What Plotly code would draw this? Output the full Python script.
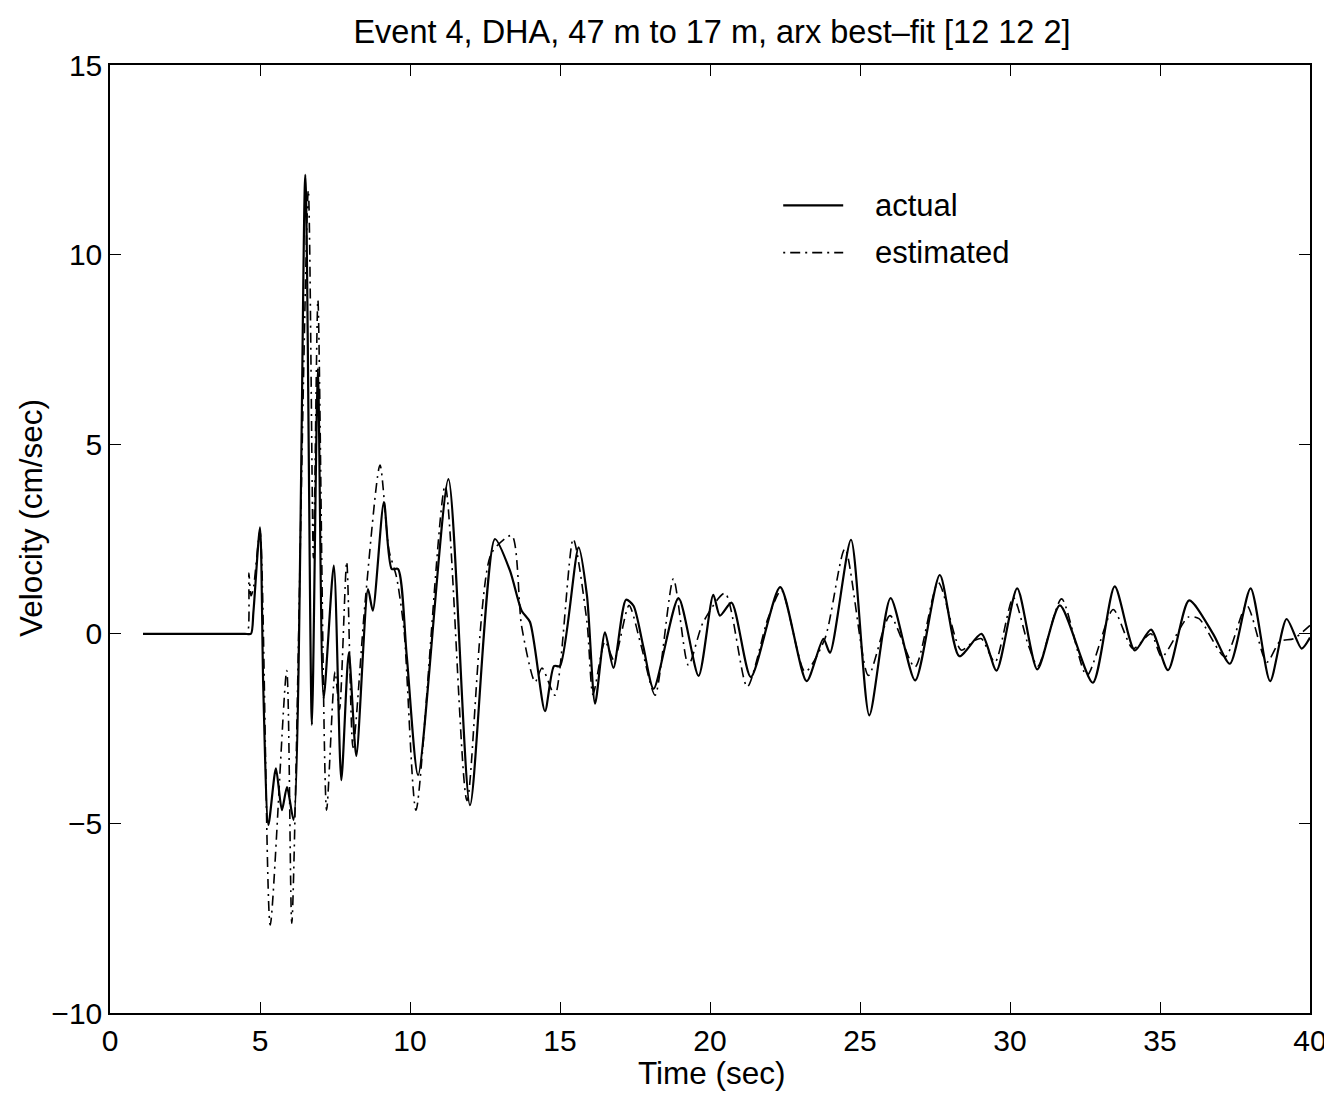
import plotly.graph_objects as go

# Time (sec) and velocity (cm/sec)
t_actual = [1.1, 2.5, 4.0, 4.5, 4.70, 4.78, 5.00, 5.11, 5.28, 5.53, 5.73, 5.90, 6.12, 6.51, 6.73,
            6.93, 7.12, 7.46, 7.71, 7.96, 8.21, 8.60, 8.76, 9.13, 9.39, 9.60, 9.89, 10.27,
            11.28, 12.00, 12.83, 13.33, 13.72, 14.00, 14.50, 14.80, 15.00, 15.62, 15.90, 16.17,
            16.50, 16.78, 17.20, 17.45, 17.78, 18.12, 18.95, 19.62, 20.11, 20.33, 20.72, 21.36,
            22.34, 23.22, 23.78, 24.00, 24.70, 25.31, 26.02, 26.84, 27.66, 28.31, 29.05, 29.55,
            30.24, 30.91, 31.66, 32.76, 33.49, 34.16, 34.70, 35.27, 35.97, 36.77, 37.33, 38.02,
            38.67, 39.22, 39.72, 40.00]
v_actual = [0.0, 0.0, 0.0, 0.0, 0.0, 0.57, 2.81, -1.45, -5.04, -3.55, -4.65, -4.04, -4.91, 12.1, -2.4,
            7.0, -1.7, 1.8, -3.86, -0.5, -3.22, 1.18, 0.61, 3.47, 1.71, 1.71, -0.57, -3.73,
            4.08, -4.52, 2.5, 1.67, 0.61, 0.31, -2.04, -0.85, -0.85, 2.28, 1.0, -1.84,
            0.04, -0.9, 0.9, 0.74, -0.35, -1.45, 0.94, -1.11, 1.03, 0.48, 0.82, -1.14,
            1.23, -1.25, -0.13, -0.5, 2.48, -2.15, 0.94, -1.23, 1.55, -0.59, 0.0, -0.97,
            1.2, -0.94, 0.75, -1.29, 1.25, -0.44, 0.11, -0.96, 0.88, 0.0, -0.79, 1.2,
            -1.25, 0.39, -0.39, -0.1]

t_est = [1.1, 2.5, 4.0, 4.45, 4.58, 4.63, 4.70, 4.78, 5.00, 5.34, 5.89, 6.06, 6.61, 6.78, 6.93,
         7.22, 7.50, 7.65, 7.89, 8.10, 8.50, 9.00, 9.30, 9.55, 9.80, 10.20, 11.17, 11.90,
         12.70, 13.39, 13.72, 14.17, 14.40, 14.83, 15.44, 15.90, 16.10, 16.50, 16.80, 17.30,
         17.70, 18.17, 18.78, 19.28, 19.77, 20.50, 21.24, 21.93, 22.38, 23.17, 23.83, 24.50,
         25.28, 26.00, 26.83, 27.61, 28.37, 28.83, 29.05, 29.50, 30.11, 30.61, 30.93, 31.72,
         32.56, 33.44, 34.10, 34.70, 35.06, 35.94, 36.30, 37.17, 37.89, 38.56, 39.00, 39.45,
         40.00]
v_est = [0.0, 0.0, 0.0, 0.0, 0.0, 1.6, 1.0, 1.2, 2.7, -7.68, -0.97, -7.63, 11.7, 2.0, 8.8,
         -4.65, -1.0, -2.0, 1.9, -3.0, 0.8, 4.45, 2.2, 1.5, 0.1, -4.65, 3.9, -4.4,
         2.1, 2.59, 0.2, -1.27, -0.9, -1.62, 2.5, 0.3, -1.6, -0.2, -0.7, 0.75,
         -0.3, -1.62, 1.45, -0.83, 0.3, 1.07, -1.4, 0.4, 1.15, -1.0, -0.13, 2.24,
         -1.1, 0.48, -0.88, 1.35, -0.43, -0.17, -0.13, -0.75, 0.96, -0.3, -0.85, 0.92,
         -1.1, 0.64, -0.39, 0.0, -0.61, 0.44, 0.4, -0.61, 0.75, -0.75, -0.2, -0.13,
         0.22]

series_names = ["actual", "estimated"]
x_ticks = [0, 5, 10, 15, 20, 25, 30, 35, 40]
y_ticks = [-10, -5, 0, 5, 10, 15]
y_tick_text = ["\u221210", "\u22125", "0", "5", "10", "15"]

FONT = "Liberation Sans, Arial, Helvetica, sans-serif"
DASHDOT = "2px,5px,10px,5px"

fig = go.Figure()
fig.add_trace(go.Scatter(x=t_actual, y=v_actual, mode="lines", name=series_names[0],
                         line=dict(color="black", width=2.2, shape="spline", smoothing=0.7),
                         showlegend=False))
fig.add_trace(go.Scatter(x=t_est, y=v_est, mode="lines", name=series_names[1],
                         line=dict(color="black", width=1.6, dash=DASHDOT, shape="spline",
                                   smoothing=0.7),
                         showlegend=False))

# manual legend (line samples + labels)
leg_x0, leg_x1, leg_tx = 0.561, 0.611, 0.636
leg_y = [0.852, 0.802]
leg_dash = ["solid", DASHDOT]
leg_w = [2.2, 1.8]
for name, yy, dsh, w in zip(series_names, leg_y, leg_dash, leg_w):
    fig.add_shape(type="line", xref="paper", yref="paper", x0=leg_x0, x1=leg_x1, y0=yy, y1=yy,
                  line=dict(color="black", width=w, dash=dsh))
    fig.add_annotation(xref="paper", yref="paper", x=leg_tx, y=yy, text=name, showarrow=False,
                       xanchor="left", yanchor="middle", font=dict(family=FONT, size=31, color="black"))

# axis titles as annotations for exact placement
fig.add_annotation(xref="paper", yref="paper", x=0.5017, y=-0.0633, text="Time (sec)",
                   showarrow=False, xanchor="center", yanchor="middle",
                   font=dict(family=FONT, size=31.5, color="black"))
fig.add_annotation(xref="paper", yref="paper", x=-0.066, y=0.522, text="Velocity (cm/sec)",
                   showarrow=False, xanchor="center", yanchor="middle", textangle=-90,
                   font=dict(family=FONT, size=31.5, color="black"))

axis_common = dict(showgrid=False, zeroline=False, showline=True, linecolor="black",
                   linewidth=1.5, mirror="ticks", ticks="inside", ticklen=11, tickwidth=1.3,
                   tickcolor="black", tickfont=dict(family=FONT, size=30, color="black"),
                   automargin=False, ticklabeloverflow="allow")

fig.update_xaxes(range=[0, 40], tickvals=x_ticks, ticktext=[str(v) for v in x_ticks],
                 **axis_common)
fig.update_yaxes(range=[-10, 15], tickvals=y_ticks, ticktext=y_tick_text,
                 **axis_common)

fig.update_layout(
    width=1324, height=1085,
    margin=dict(l=102, r=22, t=57, b=80),
    paper_bgcolor="white", plot_bgcolor="white",
    title=dict(text="Event 4, DHA, 47 m to 17 m, arx best\u2013fit [12 12 2]",
               x=0.5317, xanchor="center", y=0.9779, yanchor="middle",
               font=dict(family=FONT, size=32.5, color="black")),
)

fig.write_html("out.html")
